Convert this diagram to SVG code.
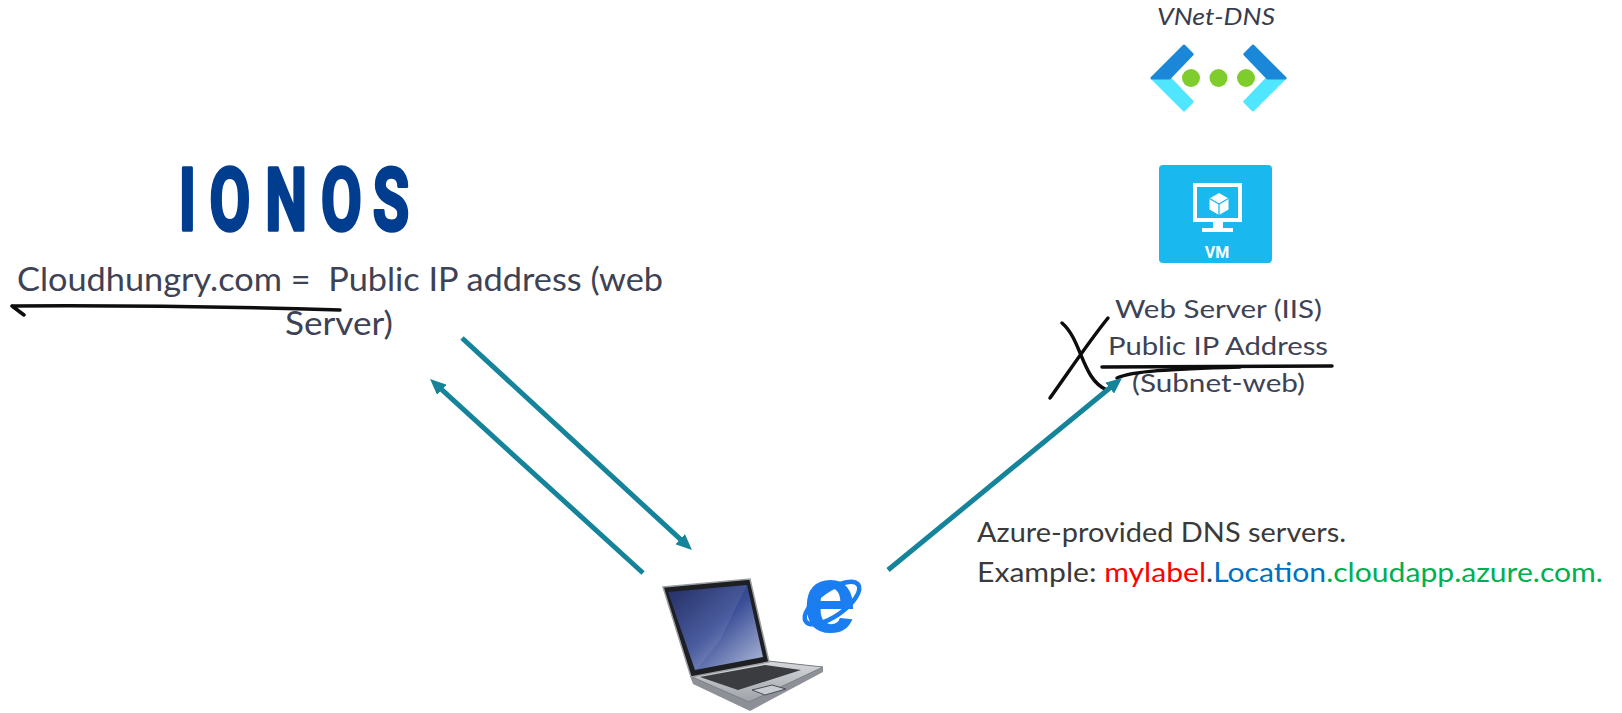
<svg xmlns="http://www.w3.org/2000/svg" width="1622" height="713" viewBox="0 0 1622 713">
  <defs>
    <style>
      .lbl{font-family:Lato,"Open Sans","Liberation Sans",sans-serif;fill:#3d4254}
      .note{font-family:Lato,"Open Sans","Liberation Sans",sans-serif;fill:#3a3a3a;font-size:26px}
      .ink{fill:none;stroke:#0d0d0d;stroke-width:3.5;stroke-linecap:round;stroke-linejoin:round}
      .flow{fill:none;stroke:#15849b;stroke-width:5}
      .dark{fill:#1b87d9;stroke:#1b87d9;stroke-width:3;stroke-linejoin:round}
      .cyan{fill:#50e6ff;stroke:#50e6ff;stroke-width:3;stroke-linejoin:round}
    </style>
    <marker id="ah" markerUnits="userSpaceOnUse" markerWidth="16" markerHeight="14" refX="6" refY="7" orient="auto">
      <path d="M0,0 L16,7 L0,14 z" fill="#15849b"/>
    </marker>
    <linearGradient id="screen" x1="0" y1="0" x2="1" y2="1">
      <stop offset="0" stop-color="#101c55"/>
      <stop offset="0.5" stop-color="#3c4f98"/>
      <stop offset="1" stop-color="#b3bedb"/>
    </linearGradient>
    <linearGradient id="deck" x1="0" y1="0" x2="0" y2="1">
      <stop offset="0" stop-color="#d6d8dc"/>
      <stop offset="1" stop-color="#9ea2a8"/>
    </linearGradient>
  </defs>

  <rect width="1622" height="713" fill="#ffffff"/>

  <!-- DNS registrar -->
  <g id="ionos">
    <text transform="translate(0,229.5) scale(0.68,1)" x="275.7 338.2 420.6 502.2 575" y="0" text-anchor="middle"
          font-family="Roboto,'Liberation Sans',sans-serif" font-weight="700" font-size="87"
          fill="#003d8f" stroke="#003d8f" stroke-width="3" stroke-linejoin="round" vector-effect="non-scaling-stroke">IONOS</text>
  </g>

  <g id="registrar-record">
    <text class="lbl" x="17" y="291" font-size="33" textLength="646" lengthAdjust="spacingAndGlyphs" xml:space="preserve">Cloudhungry.com =  Public IP address (web</text>
    <text class="lbl" x="285" y="335" font-size="33" textLength="108" lengthAdjust="spacingAndGlyphs">Server)</text>
    <path class="ink" d="M340,310 Q180,305 12,306 M12,306 L24,315"/>
  </g>

  <!-- Virtual network DNS -->
  <g id="vnet-dns">
    <text x="1157" y="25" font-family="Lato,'Open Sans','Liberation Sans',sans-serif" font-style="italic" font-size="23" fill="#373c4e" textLength="118" lengthAdjust="spacingAndGlyphs">VNet-DNS</text>
    <polygon class="cyan" points="1152,78 1169.4,78 1192.2,101.8 1184,110"/>
    <polygon class="dark" points="1152,78 1184,46 1192.2,54.2 1169.4,78"/>
    <polygon class="cyan" points="1285,78 1267.6,78 1244.8,101.8 1253,110"/>
    <polygon class="dark" points="1285,78 1253,46 1244.8,54.2 1267.6,78"/>
    <circle cx="1191" cy="78" r="9" fill="#7fcd2c"/>
    <circle cx="1218.5" cy="78" r="9" fill="#7fcd2c"/>
    <circle cx="1246" cy="78" r="9" fill="#7fcd2c"/>
  </g>

  <!-- Web server VM -->
  <g id="vm">
    <rect x="1159" y="165" width="113" height="98" rx="4" fill="#19b9ef"/>
    <rect x="1195" y="185" width="45" height="35" fill="none" stroke="#ffffff" stroke-width="4"/>
    <rect x="1213" y="222" width="10" height="6" fill="#ffffff"/>
    <rect x="1202" y="228" width="31" height="4" fill="#ffffff"/>
    <polygon points="1219,193 1228.5,198.5 1228.5,209.5 1219,215 1209.5,209.5 1209.5,198.5" fill="#ffffff"/>
    <path d="M1209.5,198.5 L1219,204 L1228.5,198.5 M1219,204 L1219,215" fill="none" stroke="#19b9ef" stroke-width="1.3"/>
    <text x="1217" y="258" text-anchor="middle" font-family="Roboto,'Liberation Sans',sans-serif" font-weight="700" font-size="16" fill="#ffffff">VM</text>
  </g>

  <g id="web-server">
    <text class="lbl" x="1115" y="318" font-size="25.5" textLength="207" lengthAdjust="spacingAndGlyphs">Web Server (IIS)</text>
    <text class="lbl" x="1108" y="355" font-size="25.5" textLength="220" lengthAdjust="spacingAndGlyphs">Public IP Address</text>
    <text class="lbl" x="1132" y="392" font-size="25.5" textLength="173" lengthAdjust="spacingAndGlyphs">(Subnet-web)</text>
    <path class="ink" d="M1108,318 C1090,340 1070,370 1050,398"/>
    <path class="ink" d="M1062,323 C1082,340 1082,380 1107,390"/>
    <path class="ink" d="M1102,367 L1332,366"/>
    <path class="ink" d="M1117,378 C1132,371 1170,369 1240,367"/>
  </g>

  <!-- Client laptop with browser -->
  <g id="client">
    <polygon points="690,676 768,661 823,667 823,672 750,711 693,684" fill="#8d9197"/>
    <polygon points="690,676 768,661 823,667 749,702" fill="url(#deck)" stroke="#7c8086" stroke-width="1"/>
    <polygon points="700,677 765,665 801,670 738,690" fill="#3a3c40"/>
    <polygon points="752,690 772,685 786,689 765,695" fill="#c8ccd2" stroke="#4a4d52" stroke-width="1"/>
    <polygon points="663,587 750,579 769,662 691,677" fill="#1e1f22" stroke="#9a9ea4" stroke-width="1.5"/>
    <polygon points="668,592 747,585 763,657 695,670" fill="url(#screen)"/>
    <polygon points="668,592 747,585 720,640 698,668 695,670" fill="#ffffff" opacity="0.08"/>
    <ellipse cx="832" cy="603" rx="32" ry="13" transform="rotate(-35 832 603)" fill="none" stroke="#1a7ef0" stroke-width="4.5"/>
    <text x="803" y="632" font-family="'Liberation Sans',Arial,sans-serif" font-weight="700" font-size="96" fill="#1a7ef0">e</text>
  </g>

  <g id="dns-note">
    <text class="note" x="977" y="542" textLength="369" lengthAdjust="spacingAndGlyphs">Azure-provided DNS servers.</text>
    <text class="note" x="977" y="582" textLength="626" lengthAdjust="spacingAndGlyphs">Example: <tspan fill="#ff0000">mylabel</tspan>.<tspan fill="#0070c0">Location</tspan><tspan fill="#00b050">.cloudapp.azure.com.</tspan></text>
  </g>

  <!-- Request / response flows -->
  <g id="connectors">
    <path class="flow" d="M462,338 L684.6,543.2" marker-end="url(#ah)"/>
    <path class="flow" d="M643,573 L437.4,385.7" marker-end="url(#ah)"/>
    <path class="flow" d="M888,570 L1114.3,384.3" marker-end="url(#ah)"/>
  </g>
</svg>
